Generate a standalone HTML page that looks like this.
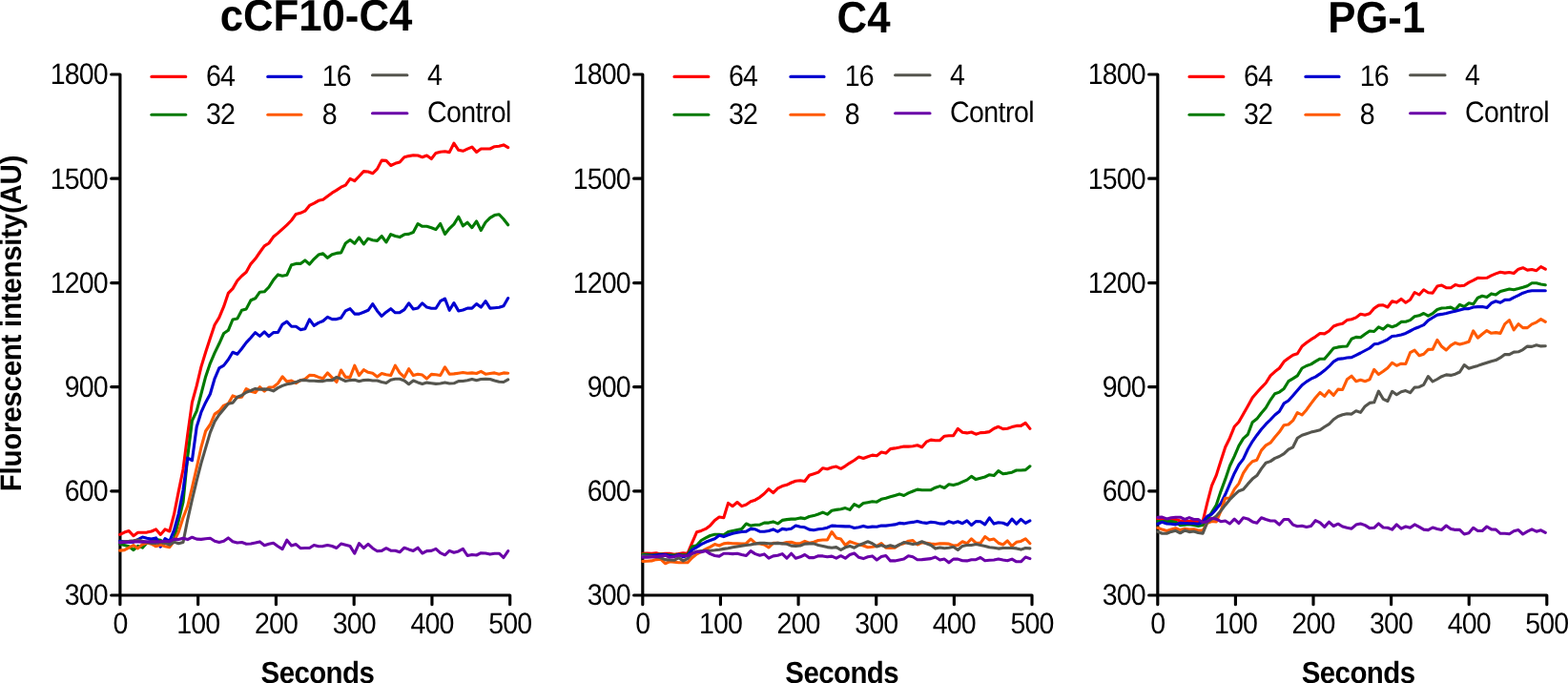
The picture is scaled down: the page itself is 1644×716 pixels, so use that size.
<!DOCTYPE html>
<html lang="en">
<head>
<meta charset="utf-8">
<title>Fluorescent intensity</title>
<style>
html,body{margin:0;padding:0;background:#fff;}
body{width:1644px;height:716px;overflow:hidden;}
svg{display:block;}
text{font-family:"Liberation Sans",Arial,Helvetica,sans-serif;fill:#000;text-rendering:geometricPrecision;}
.t{font-size:31px;letter-spacing:-0.94px;}
.b{font-size:32px;letter-spacing:-0.63px;font-weight:bold;}
.y{font-size:31px;letter-spacing:-0.25px;font-weight:bold;}
.h{font-size:46.3px;letter-spacing:-0.05px;font-weight:bold;}
.ax{stroke:#000;stroke-width:3.15;stroke-linecap:round;stroke-linejoin:round;fill:none;}
.c{stroke-width:3.1;stroke-linecap:round;stroke-linejoin:round;fill:none;}
</style>
</head>
<body>
<svg width="1644" height="716" viewBox="0 0 1644 716">
<rect width="1644" height="716" fill="#fff"/>
<text class="y" text-anchor="middle" transform="translate(22.00 339.00) rotate(-90) scale(0.95 1)">Fluorescent intensity(AU)</text>
<g>
<text class="h" text-anchor="middle" transform="translate(331.50 32.00) scale(0.945 1)">cCF10-C4</text>
<path class="ax" d="M125.9 77.95V633.65M116.7 623.95H534.7M116.7 77.95H125.9M116.7 187.15H125.9M116.7 296.55H125.9M116.7 405.6H125.9M116.7 514.8H125.9M207.66 623.95V633.65M289.42 623.95V633.65M371.18 623.95V633.65M452.94 623.95V633.65M534.7 623.95V633.65"/>
<text class="t" text-anchor="end" transform="translate(112.80 88.35) scale(0.92 1)">1800</text>
<text class="t" text-anchor="end" transform="translate(112.80 197.55) scale(0.92 1)">1500</text>
<text class="t" text-anchor="end" transform="translate(112.80 306.95) scale(0.92 1)">1200</text>
<text class="t" text-anchor="end" transform="translate(112.80 416.00) scale(0.92 1)">900</text>
<text class="t" text-anchor="end" transform="translate(112.80 525.20) scale(0.92 1)">600</text>
<text class="t" text-anchor="end" transform="translate(112.80 634.35) scale(0.92 1)">300</text>
<text class="t" text-anchor="middle" transform="translate(125.90 664.00) scale(0.92 1)">0</text>
<text class="t" text-anchor="middle" transform="translate(207.66 664.00) scale(0.92 1)">100</text>
<text class="t" text-anchor="middle" transform="translate(289.42 664.00) scale(0.92 1)">200</text>
<text class="t" text-anchor="middle" transform="translate(371.18 664.00) scale(0.92 1)">300</text>
<text class="t" text-anchor="middle" transform="translate(452.94 664.00) scale(0.92 1)">400</text>
<text class="t" text-anchor="middle" transform="translate(534.70 664.00) scale(0.92 1)">500</text>
<text class="b" text-anchor="middle" transform="translate(332.90 716.00) scale(0.92 1)">Seconds</text>
<polyline class="c" stroke="#ff0000" points="125.7,560.4 130.4,558.1 135.2,556.6 139.9,561.7 144.6,558.3 149.4,558.3 154.1,558.1 158.8,557.0 163.6,554.9 168.3,560.4 173.0,554.9 177.8,557.0 182.5,539.2 187.2,515.4 192.0,492.0 196.7,455.8 201.4,421.9 206.2,404.4 210.9,384.6 215.6,369.3 220.4,354.6 225.1,340.5 229.8,332.9 234.6,321.4 239.3,307.4 244.0,302.6 248.8,294.3 253.5,289.2 258.2,285.3 263.0,276.6 267.7,271.3 272.4,264.5 277.2,257.8 281.9,255.0 286.6,248.3 291.4,244.4 296.1,240.2 300.8,235.9 305.6,231.0 310.3,224.4 315.0,223.3 319.8,221.2 324.5,215.4 329.2,213.1 334.0,210.3 338.7,209.3 343.4,205.8 348.2,202.2 352.9,199.4 357.6,196.2 362.3,194.1 367.1,187.3 371.8,189.6 376.5,184.7 381.3,179.6 386.0,180.0 390.7,181.8 395.5,177.1 400.2,168.1 404.9,168.4 409.7,173.5 414.4,171.3 419.1,170.0 423.9,164.7 428.6,163.6 433.3,162.8 438.1,163.0 442.8,164.7 447.5,163.0 452.3,166.5 457.0,160.4 461.7,159.2 466.5,158.8 471.2,159.6 475.9,150.2 480.7,157.3 485.4,158.3 490.1,156.2 494.9,154.1 499.6,159.4 504.3,156.0 509.1,156.0 513.8,156.0 518.5,153.7 523.3,153.3 528.0,151.9 532.7,154.7"/>
<polyline class="c" stroke="#007a00" points="125.7,570.2 130.4,571.5 135.2,572.8 139.9,576.6 144.6,572.4 149.4,574.1 154.1,569.0 158.8,567.3 163.6,565.6 168.3,566.4 173.0,569.0 177.8,569.8 182.5,564.6 187.2,546.0 192.0,526.5 196.7,479.0 201.4,441.0 206.2,430.9 210.9,413.0 215.6,394.9 220.4,380.8 225.1,369.9 229.8,360.3 234.6,349.5 239.3,346.3 244.0,335.0 248.8,334.1 253.5,325.2 258.2,323.9 263.0,314.7 267.7,312.8 272.4,306.2 277.2,305.8 281.9,301.0 286.6,293.6 291.4,287.9 296.1,289.2 300.8,288.3 305.6,277.7 310.3,276.4 315.0,276.4 319.8,272.9 324.5,277.0 329.2,271.6 334.0,267.1 338.7,265.8 343.4,270.3 348.2,266.7 352.9,265.4 357.6,264.9 362.3,255.0 367.1,251.5 371.8,255.2 376.5,249.0 381.3,255.9 386.0,250.1 390.7,251.8 395.5,252.4 400.2,247.5 404.9,253.9 409.7,245.6 414.4,247.5 419.1,248.6 423.9,245.8 428.6,245.4 433.3,243.5 438.1,234.5 442.8,237.3 447.5,237.3 452.3,238.7 457.0,240.6 461.7,234.5 466.5,245.4 471.2,239.6 475.9,235.1 480.7,227.2 485.4,236.8 490.1,233.2 494.9,238.7 499.6,232.0 504.3,241.5 509.1,233.0 513.8,228.4 518.5,225.6 523.3,224.7 528.0,229.7 532.7,235.8"/>
<polyline class="c" stroke="#0000d0" points="125.7,567.3 130.4,567.7 135.2,568.5 139.9,568.1 144.6,565.6 149.4,563.0 154.1,564.3 158.8,565.1 163.6,563.9 168.3,573.2 173.0,564.7 177.8,567.3 182.5,555.9 187.2,538.6 192.0,513.7 196.7,480.1 201.4,482.7 206.2,447.5 210.9,432.2 215.6,421.9 220.4,413.0 225.1,396.8 229.8,385.9 234.6,383.1 239.3,377.0 244.0,369.3 248.8,371.2 253.5,365.5 258.2,359.1 263.0,354.0 267.7,348.6 272.4,352.4 277.2,347.9 281.9,352.7 286.6,348.6 291.4,348.5 296.1,340.1 300.8,337.1 305.6,342.2 310.3,342.2 315.0,345.6 319.8,344.8 324.5,334.8 329.2,341.3 334.0,338.4 338.7,336.5 343.4,332.3 348.2,334.6 352.9,334.6 357.6,333.2 362.3,325.9 367.1,323.7 371.8,329.1 376.5,329.1 381.3,327.2 386.0,325.3 390.7,318.6 395.5,325.9 400.2,331.4 404.9,327.2 409.7,323.7 414.4,327.8 419.1,327.6 423.9,324.6 428.6,317.8 433.3,324.0 438.1,323.0 442.8,317.8 447.5,322.1 452.3,323.3 457.0,323.3 461.7,315.7 466.5,313.1 471.2,325.3 475.9,317.6 480.7,325.9 485.4,325.0 490.1,323.1 494.9,323.1 499.6,318.5 504.3,322.1 509.1,315.7 513.8,323.1 518.5,322.7 523.3,322.3 528.0,320.8 532.7,312.5"/>
<polyline class="c" stroke="#ff5a00" points="125.7,577.1 130.4,576.6 135.2,574.1 139.9,571.5 144.6,574.9 149.4,570.7 154.1,569.0 158.8,570.2 163.6,572.8 168.3,571.1 173.0,572.8 177.8,573.7 182.5,567.3 187.2,557.9 192.0,542.8 196.7,530.5 201.4,511.3 206.2,490.4 210.9,469.0 215.6,452.0 220.4,445.0 225.1,434.1 229.8,430.9 234.6,425.1 239.3,423.2 244.0,414.9 248.8,416.8 253.5,416.2 258.2,407.6 263.0,410.2 267.7,411.5 272.4,405.7 277.2,410.2 281.9,406.1 286.6,405.7 291.4,401.9 296.1,394.9 300.8,400.0 305.6,399.1 310.3,401.6 315.0,398.7 319.8,397.4 324.5,393.3 329.2,393.5 334.0,395.4 338.7,396.7 343.4,390.9 348.2,395.8 352.9,400.5 357.6,388.0 362.3,395.4 367.1,395.4 371.8,383.2 376.5,393.5 381.3,387.7 386.0,390.3 390.7,391.3 395.5,395.0 400.2,391.5 404.9,392.8 409.7,393.5 414.4,383.2 419.1,390.9 423.9,395.4 428.6,386.7 433.3,393.5 438.1,392.2 442.8,393.1 447.5,397.0 452.3,392.4 457.0,392.8 461.7,393.5 466.5,384.8 471.2,392.2 475.9,391.9 480.7,391.2 485.4,390.5 490.1,391.2 494.9,390.9 499.6,391.5 504.3,389.4 509.1,392.2 513.8,391.5 518.5,390.9 523.3,392.2 528.0,390.9 532.7,391.2"/>
<polyline class="c" stroke="#55554e" points="125.7,568.5 130.4,567.7 135.2,567.3 139.9,566.8 144.6,566.0 149.4,567.3 154.1,568.5 158.8,569.4 163.6,569.4 168.3,568.5 173.0,569.4 177.8,571.1 182.5,568.1 187.2,569.8 192.0,568.5 196.7,544.8 201.4,524.0 206.2,504.0 210.9,485.6 215.6,469.6 220.4,453.4 225.1,441.8 229.8,434.7 234.6,429.0 239.3,423.2 244.0,422.2 248.8,416.2 253.5,414.5 258.2,411.2 263.0,409.5 267.7,407.4 272.4,408.3 277.2,407.9 281.9,408.3 286.6,409.9 291.4,406.6 296.1,404.4 300.8,402.8 305.6,401.9 310.3,400.6 315.0,398.7 319.8,398.4 324.5,399.3 329.2,399.2 334.0,399.6 338.7,399.6 343.4,398.6 348.2,398.6 352.9,395.4 357.6,397.3 362.3,399.5 367.1,398.6 371.8,398.3 376.5,399.8 381.3,398.6 386.0,398.3 390.7,399.0 395.5,399.0 400.2,400.5 404.9,401.5 409.7,398.3 414.4,397.3 419.1,397.3 423.9,399.0 428.6,402.7 433.3,399.0 438.1,400.9 442.8,402.4 447.5,401.1 452.3,401.8 457.0,402.4 461.7,402.0 466.5,401.1 471.2,402.0 475.9,401.8 480.7,399.6 485.4,399.5 490.1,398.8 494.9,397.5 499.6,398.8 504.3,397.5 509.1,397.3 513.8,397.5 518.5,399.0 523.3,400.2 528.0,400.5 532.7,397.9"/>
<polyline class="c" stroke="#6a00a8" points="125.7,569.0 130.4,568.4 135.2,568.1 139.9,567.7 144.6,567.9 149.4,568.1 154.1,567.9 158.8,567.9 163.6,567.9 168.3,567.7 173.0,567.3 177.8,567.7 182.5,565.1 187.2,565.6 192.0,564.3 196.7,565.6 201.4,563.2 206.2,565.1 210.9,565.4 215.6,564.7 220.4,564.3 225.1,567.3 229.8,568.5 234.6,567.3 239.3,563.9 244.0,567.7 248.8,569.0 253.5,568.5 258.2,570.2 263.0,570.0 267.7,569.1 272.4,567.9 277.2,571.8 281.9,570.2 286.6,569.3 291.4,572.7 296.1,575.6 300.8,566.2 305.6,572.0 310.3,570.6 315.0,574.7 319.8,574.5 324.5,574.5 329.2,571.5 334.0,572.7 338.7,572.6 343.4,571.5 348.2,572.5 352.9,574.5 357.6,570.0 362.3,571.3 367.1,572.6 371.8,580.2 376.5,569.7 381.3,574.5 386.0,570.4 390.7,574.7 395.5,577.7 400.2,577.4 404.9,574.7 409.7,577.2 414.4,577.2 419.1,578.8 423.9,574.2 428.6,575.9 433.3,577.4 438.1,574.2 442.8,580.0 447.5,577.6 452.3,577.4 457.0,575.4 461.7,579.7 466.5,581.8 471.2,577.4 475.9,579.3 480.7,577.9 485.4,575.4 490.1,582.5 494.9,581.5 499.6,582.0 504.3,579.7 509.1,580.0 513.8,581.1 518.5,580.2 523.3,580.2 528.0,584.5 532.7,577.6"/>
<path class="c" stroke="#ff0000" d="M158.9 80.4H194.7"/><text class="t" transform="translate(215.90 90.00) scale(0.92 1)">64</text>
<path class="c" stroke="#007a00" d="M158.9 120.3H194.7"/><text class="t" transform="translate(215.90 130.00) scale(0.92 1)">32</text>
<path class="c" stroke="#0000d0" d="M280.8 80.4H315.9"/><text class="t" transform="translate(337.70 90.00) scale(0.92 1)">16</text>
<path class="c" stroke="#ff5a00" d="M280.8 120.3H315.9"/><text class="t" transform="translate(337.70 130.00) scale(0.92 1)">8</text>
<path class="c" stroke="#55554e" d="M390.5 78.8H426.9"/><text class="t" transform="translate(447.90 89.00) scale(0.92 1)">4</text>
<path class="c" stroke="#6a00a8" d="M390.5 118.7H426.9"/><text class="t" style="letter-spacing:-0.62px" transform="translate(447.90 128.00) scale(0.92 1)">Control</text>
</g>
<g>
<text class="h" text-anchor="middle" transform="translate(905.50 34.00) scale(0.945 1)">C4</text>
<path class="ax" d="M673.8 77.95V633.65M664.6 623.95H1082M664.6 77.95H673.8M664.6 187.15H673.8M664.6 296.55H673.8M664.6 405.6H673.8M664.6 514.8H673.8M755.44 623.95V633.65M837.08 623.95V633.65M918.72 623.95V633.65M1000.36 623.95V633.65M1082 623.95V633.65"/>
<text class="t" text-anchor="end" transform="translate(660.70 88.35) scale(0.92 1)">1800</text>
<text class="t" text-anchor="end" transform="translate(660.70 197.55) scale(0.92 1)">1500</text>
<text class="t" text-anchor="end" transform="translate(660.70 306.95) scale(0.92 1)">1200</text>
<text class="t" text-anchor="end" transform="translate(660.70 416.00) scale(0.92 1)">900</text>
<text class="t" text-anchor="end" transform="translate(660.70 525.20) scale(0.92 1)">600</text>
<text class="t" text-anchor="end" transform="translate(660.70 634.35) scale(0.92 1)">300</text>
<text class="t" text-anchor="middle" transform="translate(673.80 664.00) scale(0.92 1)">0</text>
<text class="t" text-anchor="middle" transform="translate(755.44 664.00) scale(0.92 1)">100</text>
<text class="t" text-anchor="middle" transform="translate(837.08 664.00) scale(0.92 1)">200</text>
<text class="t" text-anchor="middle" transform="translate(918.72 664.00) scale(0.92 1)">300</text>
<text class="t" text-anchor="middle" transform="translate(1000.36 664.00) scale(0.92 1)">400</text>
<text class="t" text-anchor="middle" transform="translate(1082.00 664.00) scale(0.92 1)">500</text>
<text class="b" text-anchor="middle" transform="translate(882.70 716.00) scale(0.92 1)">Seconds</text>
<polyline class="c" stroke="#ff0000" points="673.8,580.2 678.5,580.0 683.2,580.4 688.0,579.7 692.7,580.9 697.4,580.2 702.1,580.2 706.9,581.3 711.6,580.6 716.3,579.7 721.0,580.2 725.7,568.8 730.5,557.8 735.2,556.4 739.9,554.4 744.6,550.9 749.4,545.5 754.1,542.0 758.8,542.7 763.5,527.4 768.2,530.7 773.0,526.5 777.7,530.6 782.4,529.0 787.1,525.8 791.8,524.2 796.6,521.3 801.3,517.5 806.0,512.7 810.7,516.6 815.5,511.8 820.2,509.6 824.9,508.3 829.6,506.0 834.3,504.3 839.1,503.8 843.8,504.5 848.5,498.3 853.2,496.8 858.0,495.1 862.7,490.7 867.4,491.7 872.1,490.0 876.8,489.1 881.6,491.3 886.3,488.6 891.0,485.3 895.7,482.5 900.5,479.1 905.2,480.5 909.9,478.7 914.6,477.1 919.3,477.8 924.1,474.1 928.8,475.1 933.5,470.6 938.2,469.9 943.0,469.0 947.7,468.0 952.4,468.1 957.1,467.7 961.8,466.7 966.6,468.7 971.3,463.2 976.0,461.1 980.7,461.7 985.5,461.7 990.2,457.2 994.9,456.8 999.6,456.6 1004.3,449.4 1009.1,453.3 1013.8,453.9 1018.5,453.0 1023.2,455.2 1028.0,453.6 1032.7,453.4 1037.4,452.6 1042.1,449.2 1046.8,447.3 1051.6,449.6 1056.3,449.2 1061.0,447.6 1065.7,446.4 1070.4,446.4 1075.2,443.4 1079.9,449.4"/>
<polyline class="c" stroke="#007a00" points="673.8,581.1 678.5,581.3 683.2,582.0 688.0,581.5 692.7,581.1 697.4,581.5 702.1,581.8 706.9,582.0 711.6,581.3 716.3,581.8 721.0,581.5 725.7,572.9 730.5,571.8 735.2,566.5 739.9,563.9 744.6,561.5 749.4,560.3 754.1,560.3 758.8,560.8 763.5,557.5 768.2,556.4 773.0,555.5 777.7,554.6 782.4,549.0 787.1,551.1 791.8,550.3 796.6,550.2 801.3,548.1 806.0,548.1 810.7,546.9 815.5,548.9 820.2,545.4 824.9,544.6 829.6,544.1 834.3,544.1 839.1,542.9 843.8,543.6 848.5,541.5 853.2,540.6 858.0,539.0 862.7,537.1 867.4,539.2 872.1,535.2 876.8,534.4 881.6,533.7 886.3,532.6 891.0,534.4 895.7,528.6 900.5,531.2 905.2,527.5 909.9,526.7 914.6,525.8 919.3,526.2 924.1,523.3 928.8,522.2 933.5,520.8 938.2,519.4 943.0,517.9 947.7,519.5 952.4,516.9 957.1,515.0 961.8,513.1 966.6,513.7 971.3,513.7 976.0,513.7 980.7,511.2 985.5,509.6 990.2,511.5 994.9,507.7 999.6,508.6 1004.3,507.3 1009.1,505.2 1013.8,503.1 1018.5,499.4 1023.2,502.6 1028.0,501.3 1032.7,500.0 1037.4,497.7 1042.1,498.6 1046.8,493.6 1051.6,496.7 1056.3,496.1 1061.0,495.2 1065.7,493.0 1070.4,493.0 1075.2,492.6 1079.9,488.8"/>
<polyline class="c" stroke="#0000d0" points="673.8,582.9 678.5,582.5 683.2,582.2 688.0,582.0 692.7,581.5 697.4,581.3 702.1,582.9 706.9,583.4 711.6,581.3 716.3,583.8 721.0,582.5 725.7,576.5 730.5,573.6 735.2,570.6 739.9,568.3 744.6,566.5 749.4,564.8 754.1,561.2 758.8,562.6 763.5,560.8 768.2,559.2 773.0,558.3 777.7,557.5 782.4,557.1 787.1,554.4 791.8,554.8 796.6,557.2 801.3,557.3 806.0,556.4 810.7,554.9 815.5,557.3 820.2,554.4 824.9,555.1 829.6,554.2 834.3,551.0 839.1,552.3 843.8,552.8 848.5,555.1 853.2,555.7 858.0,554.8 862.7,554.2 867.4,553.2 872.1,551.1 876.8,551.4 881.6,551.6 886.3,551.9 891.0,551.9 895.7,553.5 900.5,552.8 905.2,551.4 909.9,552.8 914.6,552.1 919.3,552.3 924.1,551.0 928.8,551.1 933.5,550.5 938.2,549.9 943.0,548.4 947.7,548.9 952.4,548.0 957.1,547.4 961.8,546.4 966.6,547.8 971.3,548.4 976.0,547.3 980.7,547.8 985.5,548.9 990.2,549.1 994.9,546.6 999.6,548.2 1004.3,546.8 1009.1,548.7 1013.8,545.9 1018.5,550.5 1023.2,546.6 1028.0,546.8 1032.7,549.9 1037.4,542.9 1042.1,549.1 1046.8,547.8 1051.6,548.2 1056.3,550.2 1061.0,544.1 1065.7,549.1 1070.4,544.4 1075.2,548.4 1079.9,545.9"/>
<polyline class="c" stroke="#ff5a00" points="673.8,588.4 678.5,588.2 683.2,587.9 688.0,586.6 692.7,586.1 697.4,590.7 702.1,588.8 706.9,589.3 711.6,589.8 716.3,589.8 721.0,589.8 725.7,584.7 730.5,580.9 735.2,578.3 739.9,575.6 744.6,573.3 749.4,570.6 754.1,572.0 758.8,569.9 763.5,569.2 768.2,569.7 773.0,569.9 777.7,570.1 782.4,569.7 787.1,565.1 791.8,569.2 796.6,570.1 801.3,571.0 806.0,573.8 810.7,569.3 815.5,569.2 820.2,569.7 824.9,568.5 829.6,568.3 834.3,569.7 839.1,569.7 843.8,567.4 848.5,569.2 853.2,568.3 858.0,566.5 862.7,566.0 867.4,566.0 872.1,557.5 876.8,563.9 881.6,565.1 886.3,571.5 891.0,567.8 895.7,569.4 900.5,571.0 905.2,572.0 909.9,573.8 914.6,573.3 919.3,572.4 924.1,569.7 928.8,574.2 933.5,574.5 938.2,574.2 943.0,571.0 947.7,569.7 952.4,567.2 957.1,566.5 961.8,571.0 966.6,568.8 971.3,569.2 976.0,570.1 980.7,570.6 985.5,569.7 990.2,569.9 994.9,570.1 999.6,572.0 1004.3,571.5 1009.1,567.8 1013.8,569.7 1018.5,564.8 1023.2,569.2 1028.0,569.4 1032.7,562.6 1037.4,566.0 1042.1,565.1 1046.8,569.2 1051.6,571.0 1056.3,566.9 1061.0,572.4 1065.7,568.3 1070.4,567.4 1075.2,564.8 1079.9,569.7"/>
<polyline class="c" stroke="#55554e" points="673.8,582.9 678.5,583.1 683.2,583.4 688.0,583.8 692.7,584.7 697.4,586.6 702.1,587.0 706.9,587.3 711.6,584.7 716.3,587.9 721.0,585.6 725.7,580.2 730.5,578.2 735.2,577.6 739.9,577.4 744.6,577.2 749.4,576.8 754.1,576.2 758.8,575.4 763.5,574.7 768.2,573.8 773.0,572.9 777.7,572.1 782.4,571.5 787.1,571.0 791.8,570.1 796.6,569.4 801.3,569.4 806.0,569.7 810.7,569.7 815.5,569.4 820.2,569.9 824.9,570.3 829.6,572.1 834.3,572.4 839.1,572.0 843.8,570.1 848.5,569.9 853.2,569.9 858.0,571.5 862.7,572.4 867.4,573.6 872.1,574.2 876.8,573.6 881.6,576.5 886.3,573.8 891.0,572.4 895.7,574.2 900.5,571.5 905.2,569.7 909.9,567.8 914.6,569.7 919.3,572.9 924.1,571.5 928.8,573.3 933.5,571.8 938.2,573.3 943.0,571.0 947.7,568.5 952.4,569.5 957.1,570.6 961.8,569.7 966.6,567.8 971.3,569.7 976.0,571.5 980.7,575.1 985.5,574.0 990.2,574.7 994.9,574.2 999.6,573.3 1004.3,576.5 1009.1,572.4 1013.8,571.5 1018.5,571.5 1023.2,570.6 1028.0,571.5 1032.7,572.4 1037.4,573.8 1042.1,574.2 1046.8,575.1 1051.6,574.5 1056.3,574.5 1061.0,574.5 1065.7,574.9 1070.4,576.1 1075.2,574.5 1079.9,574.9"/>
<polyline class="c" stroke="#6a00a8" points="673.8,584.3 678.5,584.3 683.2,584.0 688.0,583.6 692.7,582.9 697.4,582.2 702.1,584.3 706.9,583.6 711.6,582.0 716.3,582.7 721.0,582.5 725.7,580.2 730.5,578.3 735.2,578.8 739.9,577.4 744.6,580.6 749.4,582.5 754.1,583.1 758.8,580.2 763.5,580.2 768.2,580.6 773.0,580.2 777.7,581.5 782.4,582.5 787.1,577.6 791.8,580.6 796.6,582.2 801.3,580.9 806.0,585.2 810.7,582.9 815.5,582.3 820.2,580.6 824.9,585.2 829.6,580.2 834.3,585.2 839.1,583.8 843.8,581.5 848.5,584.6 853.2,584.6 858.0,582.7 862.7,582.9 867.4,583.8 872.1,583.1 876.8,585.2 881.6,582.7 886.3,585.2 891.0,581.5 895.7,580.0 900.5,584.3 905.2,585.6 909.9,583.8 914.6,582.9 919.3,587.0 924.1,583.6 928.8,582.5 933.5,587.9 938.2,587.9 943.0,587.0 947.7,586.1 952.4,582.8 957.1,583.8 961.8,586.7 966.6,586.6 971.3,586.1 976.0,585.6 980.7,584.0 985.5,587.0 990.2,586.1 994.9,589.8 999.6,586.1 1004.3,586.1 1009.1,587.7 1013.8,587.9 1018.5,586.7 1023.2,586.6 1028.0,584.5 1032.7,587.7 1037.4,587.3 1042.1,587.0 1046.8,586.1 1051.6,587.0 1056.3,587.7 1061.0,586.1 1065.7,588.8 1070.4,588.8 1075.2,584.0 1079.9,585.6"/>
<path class="c" stroke="#ff0000" d="M707 80.4H742.8"/><text class="t" transform="translate(764.00 90.00) scale(0.92 1)">64</text>
<path class="c" stroke="#007a00" d="M707 120.3H742.8"/><text class="t" transform="translate(764.00 130.00) scale(0.92 1)">32</text>
<path class="c" stroke="#0000d0" d="M828.9 80.4H864"/><text class="t" transform="translate(885.80 90.00) scale(0.92 1)">16</text>
<path class="c" stroke="#ff5a00" d="M828.9 120.3H864"/><text class="t" transform="translate(885.80 130.00) scale(0.92 1)">8</text>
<path class="c" stroke="#55554e" d="M938.6 78.8H975"/><text class="t" transform="translate(996.00 89.00) scale(0.92 1)">4</text>
<path class="c" stroke="#6a00a8" d="M938.6 118.7H975"/><text class="t" style="letter-spacing:-0.62px" transform="translate(996.00 128.00) scale(0.92 1)">Control</text>
</g>
<g>
<text class="h" text-anchor="middle" transform="translate(1443.20 34.00) scale(0.945 1)">PG-1</text>
<path class="ax" d="M1213.8 77.95V633.65M1204.6 623.95H1621.8M1204.6 77.95H1213.8M1204.6 187.15H1213.8M1204.6 296.55H1213.8M1204.6 405.6H1213.8M1204.6 514.8H1213.8M1295.4 623.95V633.65M1377 623.95V633.65M1458.6 623.95V633.65M1540.2 623.95V633.65M1621.8 623.95V633.65"/>
<text class="t" text-anchor="end" transform="translate(1200.70 88.35) scale(0.92 1)">1800</text>
<text class="t" text-anchor="end" transform="translate(1200.70 197.55) scale(0.92 1)">1500</text>
<text class="t" text-anchor="end" transform="translate(1200.70 306.95) scale(0.92 1)">1200</text>
<text class="t" text-anchor="end" transform="translate(1200.70 416.00) scale(0.92 1)">900</text>
<text class="t" text-anchor="end" transform="translate(1200.70 525.20) scale(0.92 1)">600</text>
<text class="t" text-anchor="end" transform="translate(1200.70 634.35) scale(0.92 1)">300</text>
<text class="t" text-anchor="middle" transform="translate(1213.80 664.00) scale(0.92 1)">0</text>
<text class="t" text-anchor="middle" transform="translate(1295.40 664.00) scale(0.92 1)">100</text>
<text class="t" text-anchor="middle" transform="translate(1377.00 664.00) scale(0.92 1)">200</text>
<text class="t" text-anchor="middle" transform="translate(1458.60 664.00) scale(0.92 1)">300</text>
<text class="t" text-anchor="middle" transform="translate(1540.20 664.00) scale(0.92 1)">400</text>
<text class="t" text-anchor="middle" transform="translate(1621.80 664.00) scale(0.92 1)">500</text>
<text class="b" text-anchor="middle" transform="translate(1424.10 716.00) scale(0.92 1)">Seconds</text>
<polyline class="c" stroke="#ff0000" points="1213.8,543.9 1218.5,544.6 1223.3,546.0 1228.0,545.1 1232.7,544.6 1237.4,546.0 1242.2,546.5 1246.9,546.5 1251.6,546.3 1256.3,546.5 1261.1,546.5 1265.8,527.0 1270.5,509.2 1275.3,498.1 1280.0,483.3 1284.7,468.8 1289.4,459.2 1294.2,447.3 1298.9,442.3 1303.6,433.9 1308.3,425.7 1313.1,417.0 1317.8,411.5 1322.5,406.3 1327.2,401.5 1332.0,393.9 1336.7,389.6 1341.4,386.0 1346.2,379.1 1350.9,375.5 1355.6,372.3 1360.3,370.7 1365.1,363.0 1369.8,359.3 1374.5,355.9 1379.2,353.1 1384.0,349.5 1388.7,349.9 1393.4,347.0 1398.2,342.0 1402.9,340.2 1407.6,339.3 1412.3,335.6 1417.1,334.7 1421.8,332.9 1426.5,329.2 1431.2,330.3 1436.0,328.8 1440.7,323.3 1445.4,320.1 1450.2,319.8 1454.9,322.0 1459.6,315.7 1464.3,317.1 1469.1,313.4 1473.8,317.2 1478.5,314.3 1483.2,306.5 1488.0,309.0 1492.7,303.8 1497.4,306.7 1502.1,307.1 1506.9,300.1 1511.6,299.1 1516.3,301.7 1521.1,301.7 1525.8,298.6 1530.5,299.7 1535.2,299.2 1540.0,296.1 1544.7,293.9 1549.4,291.3 1554.1,291.5 1558.9,291.3 1563.6,288.9 1568.3,286.9 1573.1,285.3 1577.8,286.1 1582.5,285.5 1587.2,286.5 1592.0,282.2 1596.7,280.7 1601.4,283.1 1606.1,282.5 1610.9,283.7 1615.6,279.6 1620.3,282.2"/>
<polyline class="c" stroke="#007a00" points="1213.8,546.5 1218.5,546.5 1223.3,546.9 1228.0,546.5 1232.7,547.4 1237.4,550.6 1242.2,550.1 1246.9,549.7 1251.6,550.6 1256.3,551.5 1261.1,550.6 1265.8,544.6 1270.5,537.1 1275.3,529.3 1280.0,515.1 1284.7,502.4 1289.4,488.5 1294.2,478.3 1298.9,467.4 1303.6,459.6 1308.3,455.5 1313.1,442.7 1317.8,439.1 1322.5,433.0 1327.2,427.5 1332.0,419.3 1336.7,412.7 1341.4,411.1 1346.2,407.4 1350.9,399.7 1355.6,396.9 1360.3,393.9 1365.1,386.0 1369.8,383.5 1374.5,381.9 1379.2,378.9 1384.0,376.2 1388.7,376.2 1393.4,370.7 1398.2,365.0 1402.9,363.9 1407.6,363.2 1412.3,363.0 1417.1,355.2 1421.8,353.4 1426.5,353.7 1431.2,350.2 1436.0,347.0 1440.7,347.5 1445.4,342.8 1450.2,345.2 1454.9,341.0 1459.6,342.7 1464.3,341.0 1469.1,337.4 1473.8,337.2 1478.5,335.6 1483.2,331.7 1488.0,330.8 1492.7,328.5 1497.4,331.1 1502.1,328.7 1506.9,324.5 1511.6,323.0 1516.3,322.8 1521.1,322.1 1525.8,324.6 1530.5,319.3 1535.2,321.5 1540.0,317.8 1544.7,318.8 1549.4,312.2 1554.1,310.3 1558.9,311.5 1563.6,307.9 1568.3,309.0 1573.1,305.6 1577.8,304.2 1582.5,303.0 1587.2,303.7 1592.0,302.6 1596.7,301.3 1601.4,299.7 1606.1,296.8 1610.9,296.8 1615.6,297.9 1620.3,298.8"/>
<polyline class="c" stroke="#0000d0" points="1213.8,549.2 1218.5,547.4 1223.3,549.0 1228.0,549.2 1232.7,549.9 1237.4,548.3 1242.2,548.5 1246.9,548.8 1251.6,548.8 1256.3,549.2 1261.1,547.4 1265.8,541.1 1270.5,539.0 1275.3,533.6 1280.0,527.8 1284.7,518.3 1289.4,507.4 1294.2,496.2 1298.9,487.2 1303.6,481.1 1308.3,471.0 1313.1,462.8 1317.8,456.2 1322.5,450.0 1327.2,444.7 1332.0,440.0 1336.7,435.0 1341.4,431.2 1346.2,422.9 1350.9,420.0 1355.6,414.7 1360.3,409.3 1365.1,403.8 1369.8,400.1 1374.5,397.2 1379.2,395.1 1384.0,391.9 1388.7,388.3 1393.4,384.2 1398.2,379.1 1402.9,376.4 1407.6,375.9 1412.3,375.0 1417.1,374.6 1421.8,372.3 1426.5,370.0 1431.2,367.5 1436.0,365.0 1440.7,360.8 1445.4,360.2 1450.2,358.1 1454.9,355.8 1459.6,352.5 1464.3,352.0 1469.1,350.9 1473.8,349.4 1478.5,347.0 1483.2,344.5 1488.0,342.7 1492.7,340.6 1497.4,335.8 1502.1,333.0 1506.9,330.1 1511.6,329.4 1516.3,328.5 1521.1,327.3 1525.8,326.2 1530.5,325.0 1535.2,323.7 1540.0,323.6 1544.7,322.0 1549.4,321.6 1554.1,321.6 1558.9,322.6 1563.6,317.8 1568.3,315.8 1573.1,317.3 1577.8,314.4 1582.5,314.3 1587.2,311.8 1592.0,309.7 1596.7,307.2 1601.4,305.6 1606.1,304.7 1610.9,304.7 1615.6,304.7 1620.3,304.7"/>
<polyline class="c" stroke="#ff5a00" points="1213.8,553.3 1218.5,555.1 1223.3,556.5 1228.0,555.1 1232.7,553.8 1237.4,555.6 1242.2,554.2 1246.9,555.1 1251.6,554.7 1256.3,556.1 1261.1,556.1 1265.8,548.3 1270.5,546.5 1275.3,546.9 1280.0,535.6 1284.7,522.2 1289.4,522.3 1294.2,512.9 1298.9,506.9 1303.6,495.8 1308.3,488.8 1313.1,483.8 1317.8,482.2 1322.5,472.1 1327.2,466.9 1332.0,464.2 1336.7,458.3 1341.4,452.8 1346.2,445.7 1350.9,445.0 1355.6,440.9 1360.3,432.5 1365.1,435.0 1369.8,429.7 1374.5,423.1 1379.2,417.0 1384.0,411.5 1388.7,415.4 1393.4,409.6 1398.2,414.4 1402.9,408.1 1407.6,408.5 1412.3,397.8 1417.1,394.2 1421.8,399.7 1426.5,398.3 1431.2,399.7 1436.0,397.9 1440.7,387.4 1445.4,392.5 1450.2,389.3 1454.9,385.8 1459.6,380.3 1464.3,383.3 1469.1,381.2 1473.8,381.5 1478.5,369.7 1483.2,367.2 1488.0,372.8 1492.7,371.3 1497.4,366.4 1502.1,366.3 1506.9,356.4 1511.6,363.3 1516.3,367.0 1521.1,362.1 1525.8,359.4 1530.5,360.9 1535.2,359.7 1540.0,358.3 1544.7,346.9 1549.4,354.2 1554.1,350.3 1558.9,346.6 1563.6,349.3 1568.3,348.6 1573.1,349.4 1577.8,339.6 1582.5,335.6 1587.2,345.9 1592.0,339.6 1596.7,343.6 1601.4,343.6 1606.1,339.9 1610.9,337.8 1615.6,334.6 1620.3,337.3"/>
<polyline class="c" stroke="#55554e" points="1213.8,557.4 1218.5,559.3 1223.3,559.3 1228.0,557.4 1232.7,556.3 1237.4,558.8 1242.2,556.1 1246.9,557.6 1251.6,557.0 1256.3,558.5 1261.1,559.1 1265.8,547.4 1270.5,544.2 1275.3,541.1 1280.0,535.6 1284.7,529.4 1289.4,523.7 1294.2,518.8 1298.9,514.7 1303.6,513.0 1308.3,507.4 1313.1,502.1 1317.8,498.6 1322.5,491.4 1327.2,485.3 1332.0,483.6 1336.7,480.4 1341.4,478.5 1346.2,475.6 1350.9,471.2 1355.6,468.8 1360.3,459.2 1365.1,456.2 1369.8,454.7 1374.5,453.1 1379.2,451.9 1384.0,450.7 1388.7,447.5 1393.4,444.7 1398.2,439.7 1402.9,436.5 1407.6,434.8 1412.3,433.7 1417.1,434.1 1421.8,430.7 1426.5,432.4 1431.2,425.9 1436.0,422.4 1440.7,421.8 1445.4,410.1 1450.2,418.3 1454.9,420.5 1459.6,410.3 1464.3,413.7 1469.1,410.7 1473.8,409.6 1478.5,411.7 1483.2,406.1 1488.0,405.7 1492.7,403.3 1497.4,394.6 1502.1,400.0 1506.9,397.5 1511.6,394.7 1516.3,392.9 1521.1,393.4 1525.8,392.2 1530.5,390.0 1535.2,382.6 1540.0,386.2 1544.7,384.8 1549.4,383.4 1554.1,381.8 1558.9,380.2 1563.6,378.7 1568.3,377.6 1573.1,374.9 1577.8,371.5 1582.5,371.6 1587.2,369.1 1592.0,368.8 1596.7,366.6 1601.4,363.1 1606.1,363.4 1610.9,361.8 1615.6,362.9 1620.3,362.7"/>
<polyline class="c" stroke="#6a00a8" points="1213.8,542.4 1218.5,542.1 1223.3,543.9 1228.0,542.8 1232.7,542.2 1237.4,542.2 1242.2,544.5 1246.9,542.6 1251.6,544.5 1256.3,544.5 1261.1,547.8 1265.8,546.5 1270.5,543.3 1275.3,544.2 1280.0,546.7 1284.7,546.0 1289.4,549.0 1294.2,544.2 1298.9,548.5 1303.6,542.8 1308.3,543.9 1313.1,546.9 1317.8,548.3 1322.5,542.8 1327.2,544.5 1332.0,546.0 1336.7,546.0 1341.4,550.1 1346.2,544.5 1350.9,544.5 1355.6,550.1 1360.3,551.8 1365.1,551.2 1369.8,552.4 1374.5,551.5 1379.2,545.7 1384.0,547.8 1388.7,552.4 1393.4,547.2 1398.2,551.5 1402.9,549.2 1407.6,552.0 1412.3,553.3 1417.1,554.2 1421.8,550.1 1426.5,549.0 1431.2,550.6 1436.0,553.6 1440.7,553.3 1445.4,548.8 1450.2,553.0 1454.9,553.3 1459.6,555.1 1464.3,549.9 1469.1,554.2 1473.8,552.0 1478.5,553.3 1483.2,549.9 1488.0,552.4 1492.7,555.1 1497.4,555.6 1502.1,553.0 1506.9,554.5 1511.6,555.4 1516.3,551.0 1521.1,554.5 1525.8,555.4 1530.5,555.4 1535.2,560.0 1540.0,558.8 1544.7,553.3 1549.4,556.5 1554.1,556.5 1558.9,552.0 1563.6,554.9 1568.3,555.1 1573.1,559.3 1577.8,559.3 1582.5,559.7 1587.2,556.7 1592.0,555.6 1596.7,560.0 1601.4,557.2 1606.1,554.9 1610.9,557.2 1615.6,555.8 1620.3,558.3"/>
<path class="c" stroke="#ff0000" d="M1247 80.4H1282.8"/><text class="t" transform="translate(1304.00 90.00) scale(0.92 1)">64</text>
<path class="c" stroke="#007a00" d="M1247 120.3H1282.8"/><text class="t" transform="translate(1304.00 130.00) scale(0.92 1)">32</text>
<path class="c" stroke="#0000d0" d="M1368.9 80.4H1404"/><text class="t" transform="translate(1425.80 90.00) scale(0.92 1)">16</text>
<path class="c" stroke="#ff5a00" d="M1368.9 120.3H1404"/><text class="t" transform="translate(1425.80 130.00) scale(0.92 1)">8</text>
<path class="c" stroke="#55554e" d="M1478.6 78.8H1515"/><text class="t" transform="translate(1536.00 89.00) scale(0.92 1)">4</text>
<path class="c" stroke="#6a00a8" d="M1478.6 118.7H1515"/><text class="t" style="letter-spacing:-0.62px" transform="translate(1536.00 128.00) scale(0.92 1)">Control</text>
</g>
</svg>
</body>
</html>
